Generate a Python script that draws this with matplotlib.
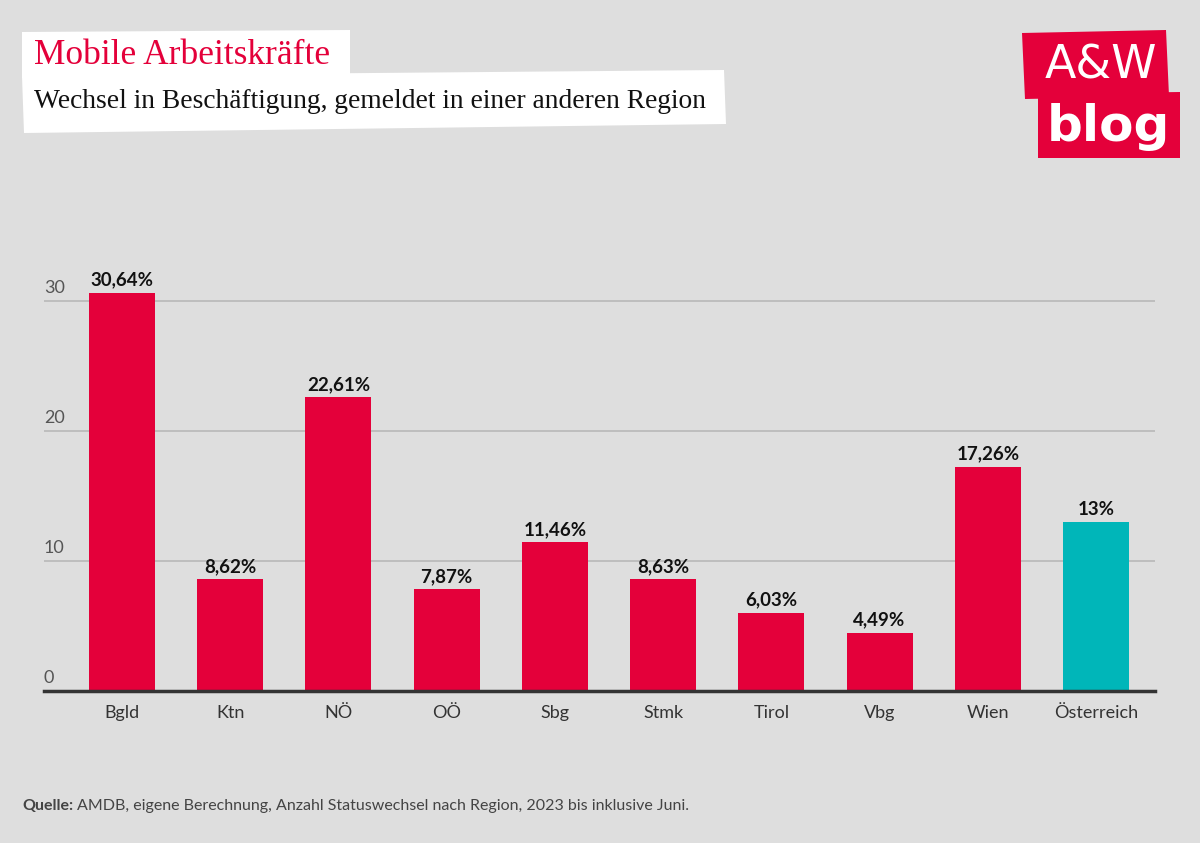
import matplotlib
matplotlib.use("Agg")
import matplotlib.pyplot as plt
from matplotlib.patches import Polygon

W, H = 1200, 843

regions = ["Bgld", "Ktn", "NÖ", "OÖ", "Sbg", "Stmk", "Tirol", "Vbg", "Wien", "Österreich"]
shares = [30.64, 8.62, 22.61, 7.87, 11.46, 8.63, 6.03, 4.49, 17.26, 13.0]
value_labels = ["30,64%", "8,62%", "22,61%", "7,87%", "11,46%", "8,63%", "6,03%", "4,49%", "17,26%", "13%"]
y_ticks = [0, 10, 20, 30]

RED = "#e4003a"
TEAL = "#00b6b9"
BG = "#dedede"
bar_colors = [RED] * 9 + [TEAL]

plt.rcParams["font.family"] = ["Lato", "DejaVu Sans"]


def fx(x):
    return x / W


def fy(y):
    return 1 - y / H


def box(fig, pts, color):
    poly = Polygon([(fx(x), fy(y)) for x, y in pts], closed=True,
                   transform=fig.transFigure, facecolor=color, edgecolor="none")
    fig.patches.append(poly)


fig = plt.figure(figsize=(W / 100, H / 100), dpi=100, facecolor=BG)
ax = fig.add_axes([fx(44), fy(691), fx(1155) - fx(44), fy(260) - fy(691)])
ax.set_facecolor(BG)

x = list(range(len(regions)))
ax.bar(x, shares, width=0.61, color=bar_colors, zorder=3)
for xi, v, lab in zip(x, shares, value_labels):
    ax.text(xi, v + 0.3, lab, ha="center", va="bottom", fontsize=13.5,
            fontweight="bold", color="#111111", zorder=4)

ax.set_xlim(-0.72, 9.545)
ax.set_ylim(0, 33.15)
ax.set_yticks(y_ticks)
ax.set_yticklabels([])
ax.tick_params(axis="y", length=0)
ax.grid(axis="y", color="#b8b8b8", linewidth=1.2, zorder=1)
for t in y_ticks:
    ax.text(-0.72, t + 0.35, str(t), ha="left", va="bottom", fontsize=13,
            color="#555555")

ax.set_xticks(x)
ax.set_xticklabels(regions, fontsize=13, color="#333333")
ax.tick_params(axis="x", length=0, pad=10)
for s in ["top", "right", "left"]:
    ax.spines[s].set_visible(False)
ax.spines["bottom"].set_color("#333333")
ax.spines["bottom"].set_linewidth(2.5)
ax.spines["bottom"].set_zorder(5)

# title boxes
box(fig, [(22, 32), (350, 30), (350, 76), (22, 78)], "white")
box(fig, [(22, 76), (724, 70), (726, 124), (24, 133)], "white")
fig.text(fx(34), fy(55), "Mobile Arbeitskräfte", fontsize=25.5,
         family="Liberation Serif", color=RED, va="center", ha="left")
fig.text(fx(34), fy(102), "Wechsel in Beschäftigung, gemeldet in einer anderen Region",
         fontsize=19.8, family="Liberation Serif", color="#111111", va="center", ha="left")

# logo
box(fig, [(1022, 33), (1166, 30), (1169, 96), (1025, 99)], RED)
box(fig, [(1038, 94), (1180, 92), (1180, 158), (1038, 158)], RED)
fig.text(fx(1101), fy(66), "A&W", fontsize=33, color="white", ha="center",
         va="center", family="DejaVu Sans")
fig.text(fx(1108), fy(127), "blog", fontsize=36, color="white", ha="center",
         va="center", family="DejaVu Sans", fontweight="bold")

# source
src = fig.text(fx(22), fy(806), "Quelle:", fontsize=11.5, fontweight="bold",
               color="#444444", va="center", ha="left")
fig.canvas.draw()
bb = src.get_window_extent()
fig.text((bb.x1 + 4) / W, fy(806),
         "AMDB, eigene Berechnung, Anzahl Statuswechsel nach Region, 2023 bis inklusive Juni.",
         fontsize=11.5, color="#444444", va="center", ha="left")

fig.savefig("out.png", dpi=100, facecolor=BG)
